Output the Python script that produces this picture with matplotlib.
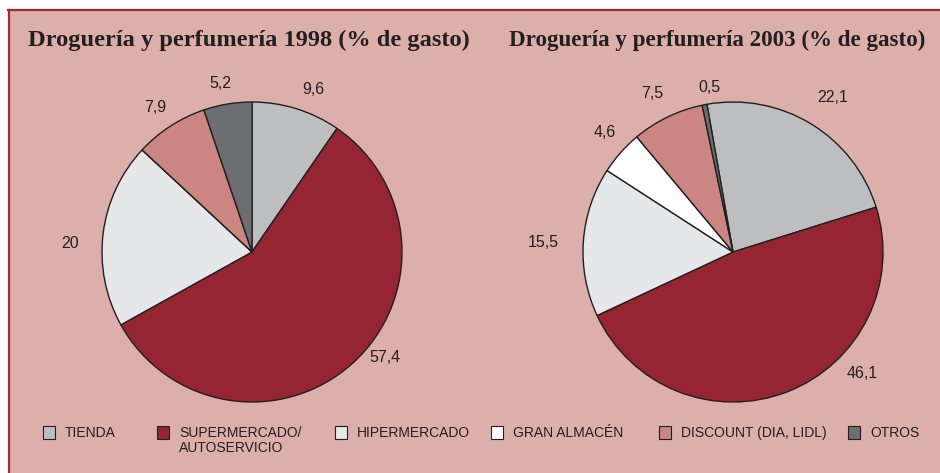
import matplotlib
matplotlib.use("Agg")
import matplotlib.pyplot as plt
from matplotlib.patches import Rectangle

# ---------------- data ----------------
categories = ["TIENDA", "SUPERMERCADO/\nAUTOSERVICIO", "HIPERMERCADO",
              "GRAN ALMACÉN", "DISCOUNT (DIA, LIDL)", "OTROS"]
values_1998 = [9.6, 57.4, 20.0, 0.0, 7.9, 5.2]
values_2003 = [22.1, 46.1, 15.5, 4.6, 7.5, 0.5]
labels_1998 = ["9,6", "57,4", "20", "", "7,9", "5,2"]
labels_2003 = ["22,1", "46,1", "15,5", "4,6", "7,5", "0,5"]
title_1998 = "Droguería y perfumería 1998 (% de gasto)"
title_2003 = "Droguería y perfumería 2003 (% de gasto)"

# ---------------- style ----------------
colors = ["#BDBEC0", "#952533", "#E6E7E8", "#FFFFFF", "#CB8582", "#6D6E71"]
bg = "#DDAFAB"
border = "#A3283A"
edge = "#231F20"

W, H = 940, 473
fig = plt.figure(figsize=(W / 100, H / 100), dpi=100)
fig.patch.set_facecolor("white")

def fx(x):
    return x / W

def fy(y):
    return 1 - y / H

# background panel with border on top and left
fig.add_artist(Rectangle((fx(8), 0), 1 - fx(8), fy(10), transform=fig.transFigure,
                         facecolor=bg, edgecolor="none", zorder=0))
fig.add_artist(plt.Line2D([fx(9), fx(9)], [0, fy(10)], transform=fig.transFigure,
                          color=border, lw=1.6, zorder=1))
fig.add_artist(plt.Line2D([fx(8), 1], [fy(10.5), fy(10.5)], transform=fig.transFigure,
                          color=border, lw=1.6, zorder=1))

serif = ["Liberation Serif", "DejaVu Serif"]
sans_narrow = ["Liberation Sans Narrow", "Liberation Sans", "DejaVu Sans"]
sans = ["Liberation Sans", "DejaVu Sans"]

fig.text(fx(28), fy(40), title_1998, family=serif, weight="bold", fontsize=17.6,
         color="#231F20", va="center", ha="left")
fig.text(fx(509), fy(40), title_2003, family=serif, weight="bold", fontsize=16.6,
         color="#231F20", va="center", ha="left")

def draw_pie(cx, cy, r, vals, start):
    ax = fig.add_axes([fx(cx - r), fy(cy + r), (2 * r) / W, (2 * r) / H])
    ax.pie(vals, colors=colors, startangle=start, counterclock=False,
           wedgeprops=dict(edgecolor=edge, linewidth=1.0))
    ax.set_xlim(-1, 1)
    ax.set_ylim(-1, 1)
    ax.set_aspect("equal")
    ax.axis("off")
    return ax

draw_pie(252, 252, 150, values_1998, 90)
draw_pie(733, 252, 150, values_2003, 100)

# value label positions (pixels)
pos_1998 = [(313, 90), (385, 357), (70, 243), None, (155, 107), (220, 84)]
pos_2003 = [(833, 97), (862, 374), (543, 242), (605, 132), (652, 94), (709, 87)]
for labs, poss in ((labels_1998, pos_1998), (labels_2003, pos_2003)):
    for lab, p in zip(labs, poss):
        if p is None or not lab:
            continue
        fig.text(fx(p[0]), fy(p[1]), lab, family=sans, fontsize=11.5,
                 color="#231F20", ha="center", va="center")

# legend
leg_sq_x = [43, 157, 335, 491, 659, 848]
for cat, col, sx in zip(categories, colors, leg_sq_x):
    fig.add_artist(Rectangle((fx(sx), fy(439)), 12 / W, 13 / H,
                             transform=fig.transFigure, facecolor=col,
                             edgecolor=edge, lw=0.8, zorder=3))
    fig.text(fx(sx + 22), fy(426), cat, family=sans_narrow, fontsize=10,
             color="#231F20", ha="left", va="top", linespacing=1.05)

fig.savefig("out.png", dpi=100, facecolor=fig.get_facecolor())
